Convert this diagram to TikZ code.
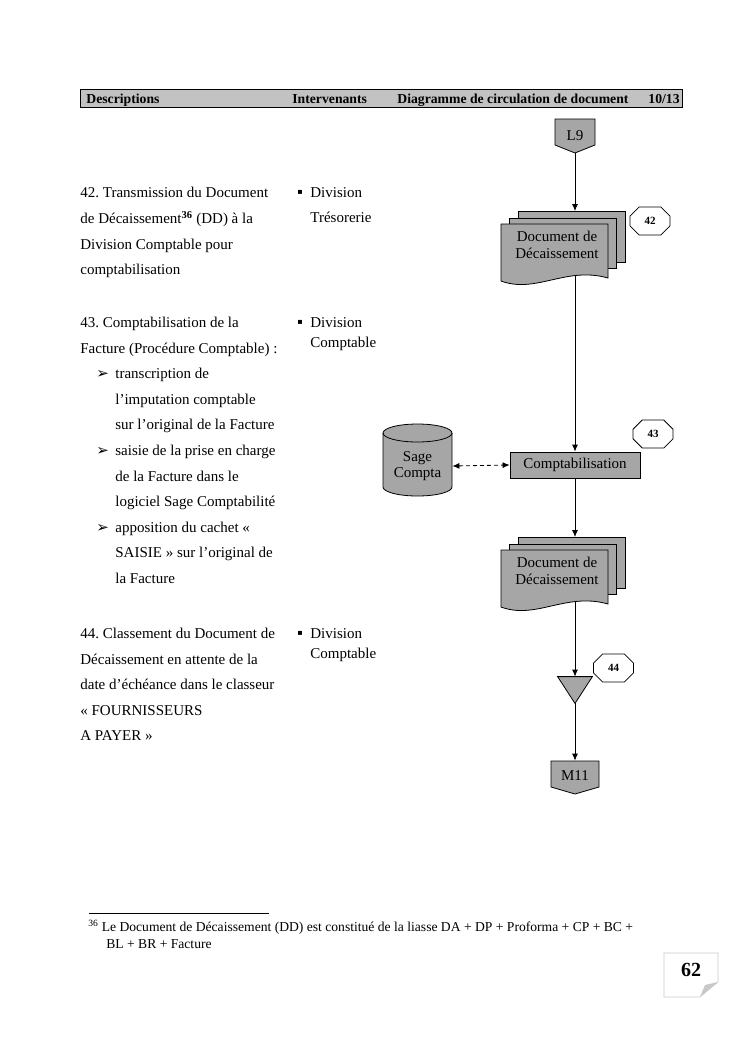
\documentclass[tikz,border=0pt]{standalone}
\usepackage{fontspec}
\setmainfont{Liberation Serif}
\newfontfamily\symb{DejaVu Sans}
\usetikzlibrary{arrows.meta,shapes.misc}
\definecolor{grisdoc}{RGB}{166,166,166}
\definecolor{grisbar}{RGB}{194,194,194}
\definecolor{grispage}{RGB}{200,200,200}
\newcommand\puce{\makebox[35pt][l]{\hspace{16pt}{\symb\fontsize{15}{15}\selectfont ➢}}}
\newcommand\carre{\makebox[14pt][l]{\hspace{1pt}\raisebox{2.5pt}{\symb\fontsize{8}{8}\selectfont ▪}}}
\frenchspacing

\begin{document}
\begin{tikzpicture}[x=1pt,y=-1pt,>={Latex[length=7pt,width=6pt]},line width=0.8pt,
 every node/.style={inner sep=0pt},
 texte/.style={anchor=north west,align=left,font=\fontsize{15}{25.6}\selectfont},
 interv/.style={anchor=north west,align=left,font=\fontsize{15}{20.5}\selectfont},
 entete/.style={anchor=base west,font=\bfseries\fontsize{13.7}{16}\selectfont},
 flux/.style={draw,fill=grisdoc},
 doctexte/.style={align=center,font=\fontsize{15}{16.5}\selectfont},
 etape/.style={draw,fill=white,chamfered rectangle,chamfered rectangle sep=7pt,
   minimum width=40pt,minimum height=28pt,font=\bfseries\fontsize{11}{12}\selectfont}]
\useasboundingbox (0,0) rectangle (744,1053);

% en-tete
\draw[fill=grisbar] (80,89) rectangle (682,107);
\node[entete] (hdesc) at (86,103) {Descriptions};
\node[entete] (hint) at (292,103) {Intervenants};
\node[entete] (hdiag) at (397,103) {Diagramme de circulation de document};
\node[entete] (hpage) at (648,103) {10/13};

% descriptions
\node[texte] (d42) at (80,187) {42. Transmission du Document\\de Décaissement\textsuperscript{\bfseries 36} (DD) à la\\Division Comptable pour\\comptabilisation};
\node[texte] (i42) at (296,187) {\carre Division\\\hspace*{14pt}Trésorerie};

\node[texte] (d43) at (80,316.7) {43. Comptabilisation de la\\Facture (Procédure Comptable) :\\
\puce transcription de\\\hspace*{35pt}l’imputation comptable\\\hspace*{35pt}sur l’original de la Facture\\
\puce saisie de la prise en charge\\\hspace*{35pt}de la Facture dans le\\\hspace*{35pt}logiciel Sage Comptabilité\\
\puce apposition du cachet «\\\hspace*{35pt}SAISIE » sur l’original de\\\hspace*{35pt}la Facture};
\node[interv] (i43) at (296,316.7) {\carre Division\\\hspace*{14pt}Comptable};

\node[texte] (d44) at (80,627.7) {44. Classement du Document de\\Décaissement en attente de la\\date d’échéance dans le classeur\\« FOURNISSEURS\\A PAYER »};
\node[interv] (i44) at (296,627.7) {\carre Division\\\hspace*{14pt}Comptable};

% diagramme
\draw[flux] (555,119) -- (595,119) -- (595,145) -- (575,153) -- (555,145) -- cycle;
\node[doctexte] (l9) at (575,136) [minimum width=40pt,minimum height=34pt] {L9};

\begin{scope}[shift={(501,224)}]
 \draw[flux] (17,-13) rectangle ++(107,51);
 \draw[flux] (8,-6) rectangle ++(107,50);
 \draw[flux] (0,0) -- (107,0) -- (107,54) .. controls (65,42) and (35,70) .. (0,57) -- cycle;
 \coordinate (dd1h) at (74,-13);
 \coordinate (dd1b) at (74,51.5);
 \node[doctexte] (dd1) at (56,21) {Document de\\Décaissement};
\end{scope}
\node[etape] (e42) at (650,221) {42};
\draw[->] (l9.south) -- (dd1h);

\node[flux,doctexte,minimum width=130pt,minimum height=26pt] (cpt) at (575,465) {Comptabilisation};
\draw[->] (dd1b) -- (cpt.north);
\node[etape] (e43) at (653,434) {43};

\draw[flux] (383,433) -- (383,487) arc[start angle=180,end angle=360,x radius=34.5pt,y radius=9pt]
  -- (452,433) arc[start angle=0,end angle=180,x radius=34.5pt,y radius=9pt] -- cycle;
\draw (383,433) arc[start angle=180,end angle=360,x radius=34.5pt,y radius=9pt];
\node[doctexte,minimum width=69pt] (sage) at (417.5,466) {Sage\\Compta};
\draw[<->,dash pattern=on 4pt off 3pt] (sage.east) -- (cpt.west);

\begin{scope}[shift={(501,550)}]
 \draw[flux] (17,-13) rectangle ++(107,51);
 \draw[flux] (8,-6) rectangle ++(107,50);
 \draw[flux] (0,0) -- (107,0) -- (107,54) .. controls (65,42) and (35,70) .. (0,57) -- cycle;
 \coordinate (dd2h) at (74,-13);
 \coordinate (dd2b) at (74,51.5);
 \node[doctexte] (dd2) at (56,21) {Document de\\Décaissement};
\end{scope}
\draw[->] (cpt.south) -- (dd2h);

\node (cls) at (575,690) [minimum width=34pt,minimum height=26pt] {};
\draw[flux] (cls.north west) -- (cls.north east) -- (cls.south) -- cycle;
\node[etape] (e44) at (613.5,668) {44};
\draw[->] (dd2b) -- (cls.north);

\draw[flux] (551,761) -- (599,761) -- (599,787) -- (575,794) -- (551,787) -- cycle;
\node[doctexte] (m11) at (575,776) [minimum width=48pt,minimum height=30pt] {M11};
\draw[->] (cls.south) -- (m11.north);

% note de bas de page
\draw[line width=0.6pt] (89,913) -- (269,913);
\node[anchor=north west,align=left,font=\fontsize{13.6}{17}\selectfont] (fn) at (88,920)
 {\textsuperscript{36} Le Document de Décaissement (DD) est constitué de la liasse DA + DP + Proforma + CP + BC +\\\hspace*{18pt}BL + BR + Facture};

% numero de page
\draw[grispage,line width=0.6pt] (664,953) -- (718,953) -- (718,982) -- (700,997) -- (664,997) -- cycle;
\fill[grispage] (718,982) -- (700,997) .. controls (703,991) .. (705,985) -- cycle;
\node[font=\bfseries\fontsize{20}{24}\selectfont] (pnum) at (691,970) {62};
\end{tikzpicture}
\end{document}
